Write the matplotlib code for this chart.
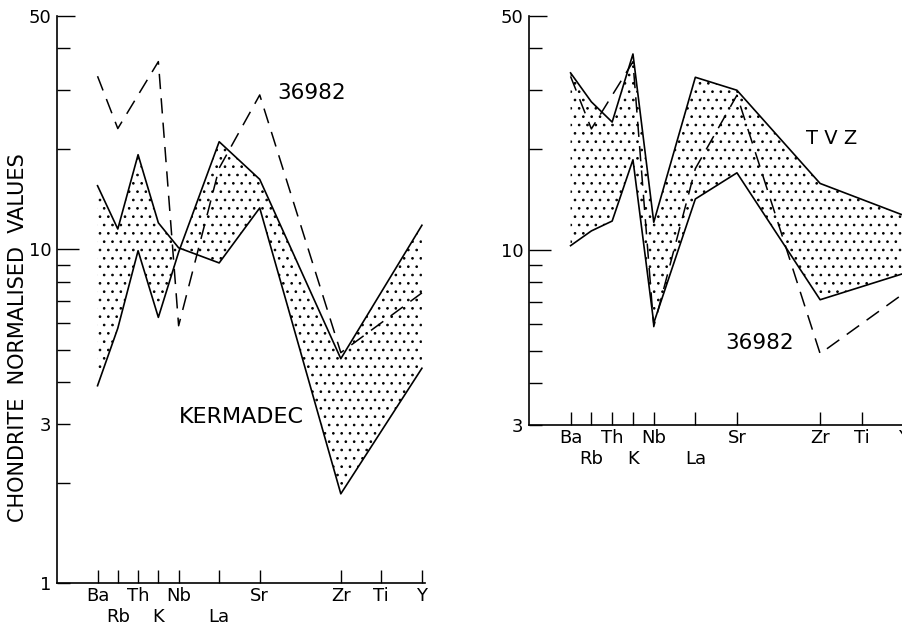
import numpy as np
import matplotlib
matplotlib.use("Agg")
import matplotlib.pyplot as plt

# element order and spacing along the x axis
elements = ["Ba", "Rb", "Th", "K", "Nb", "La", "Sr", "Zr", "Ti", "Y"]
element_pos = [0, 1, 2, 3, 4, 6, 8, 12, 14, 16]
second_row = ["Rb", "K", "La"]

# band limits (both lines share these elements, Ti not plotted)
band_elements = ["Ba", "Rb", "Th", "K", "Nb", "La", "Sr", "Zr", "Y"]
kermadec_a = [15.5, 11.5, 19.2, 12.0, 10.1, 9.1, 13.3, 1.85, 4.4]
kermadec_b = [3.9, 5.8, 9.9, 6.25, 9.8, 21.0, 16.2, 4.7, 11.8]
tvz_upper = [33.8, 27.7, 24.1, 38.5, 12.1, 32.8, 30.0, 15.8, 12.7]
tvz_lower = [10.3, 11.4, 12.2, 18.6, 6.05, 14.2, 17.0, 7.1, 8.5]

# sample 36982 (dashed)
sample_elements = ["Ba", "Rb", "K", "Nb", "La", "Sr", "Zr", "Y"]
sample_36982 = [33.0, 23.0, 36.5, 5.9, 17.5, 29.0, 4.9, 7.4]

ytick_vals = [1, 2, 3, 4, 5, 6, 7, 8, 9, 10, 20, 30, 40, 50]
ytick_labelled = [1, 3, 10, 50]

pos = dict(zip(elements, element_pos))
band_x = [pos[e] for e in band_elements]
sample_x = [pos[e] for e in sample_elements]

FS = 13


def setup_axes(ax, ymin):
    ax.set_yscale("log")
    ax.set_xlim(-2, 16.15)
    ax.set_ylim(ymin, 50)
    for s in ["top", "right"]:
        ax.spines[s].set_visible(False)
    for s in ["left", "bottom"]:
        ax.spines[s].set_linewidth(1.2)
    yt = [v for v in ytick_vals if v >= ymin]
    ax.set_yticks(yt)
    ax.set_yticklabels([str(v) if v in ytick_labelled else "" for v in yt])
    ax.yaxis.set_minor_locator(matplotlib.ticker.NullLocator())
    ax.tick_params(axis="y", direction="in", length=9.5, width=1.0, pad=4, labelsize=FS)
    for v, t in zip(yt, ax.yaxis.get_major_ticks()):
        if v == 10:
            t.tick1line.set_markersize(16)
        elif v == 50:
            t.tick1line.set_markersize(13)

    # first row of element names as major ticks, second row as minor ticks
    top = [e for e in elements if e not in second_row]
    low = [e for e in elements if e in second_row]
    ax.set_xticks([pos[e] for e in top])
    ax.set_xticklabels(top)
    ax.set_xticks([pos[e] for e in low], minor=True)
    ax.set_xticklabels(low, minor=True)
    ax.tick_params(axis="x", which="both", direction="in", length=9.5, width=1.0,
                   labelsize=FS)
    ax.tick_params(axis="x", which="major", pad=3)
    ax.tick_params(axis="x", which="minor", pad=18)


def draw_band(ax, lo, hi):
    ax.fill_between(band_x, lo, hi, facecolor="none", edgecolor="black",
                    hatch="..", linewidth=0)
    ax.plot(band_x, lo, color="black", lw=1.2)
    ax.plot(band_x, hi, color="black", lw=1.2)
    ax.plot(sample_x, sample_36982, color="black", lw=1.1, dashes=(10, 6))


plt.rcParams["hatch.linewidth"] = 0.7
fig = plt.figure(figsize=(9.03, 6.27), dpi=100)

ax1 = fig.add_axes([0.0631, 0.0702, 0.4075, 0.9043])
setup_axes(ax1, 1)
draw_band(ax1, kermadec_a, kermadec_b)
ax1.text(312 / 903, 1 - 93 / 627, "36982", transform=fig.transFigure,
         fontsize=15.5, ha="center", va="center")
ax1.text(241 / 903, 1 - 417 / 627, "KERMADEC", transform=fig.transFigure,
         fontsize=16, ha="center", va="center")

ax2 = fig.add_axes([0.5858, 0.3222, 0.418, 0.6523])
setup_axes(ax2, 3)
draw_band(ax2, tvz_lower, tvz_upper)
ax2.text(832 / 903, 1 - 138 / 627, "T V Z", transform=fig.transFigure,
         fontsize=14, ha="center", va="center")
ax2.text(760 / 903, 1 - 343 / 627, "36982", transform=fig.transFigure,
         fontsize=15.5, ha="center", va="center")

fig.text(18 / 903, 1 - 338 / 627, "CHONDRITE  NORMALISED  VALUES", rotation=90,
         fontsize=15, ha="center", va="center")

fig.savefig("out.png", dpi=100)
